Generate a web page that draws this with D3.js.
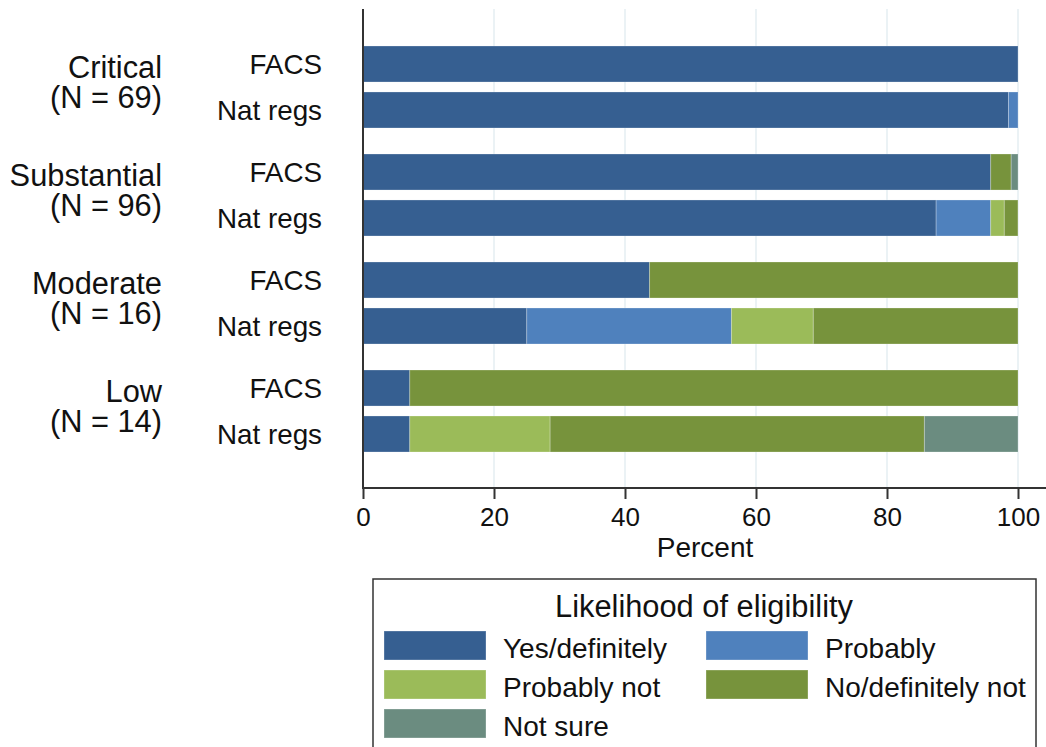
<!DOCTYPE html>
<html>
<head>
<meta charset="utf-8">
<script src="https://cdn.jsdelivr.net/npm/d3@7"></script>
<style>
  html, body { margin: 0; padding: 0; background: #fff; }
  svg { display: block; font-family: "Liberation Sans", Arial, Helvetica, sans-serif; }
</style>
</head>
<body>
<svg id="chart" width="1046" height="747"></svg>
<script>
// ---- data ----
const groups = ["Critical", "Substantial", "Moderate", "Low"];
const groupN = ["(N = 69)", "(N = 96)", "(N = 16)", "(N = 14)"];
const sources = ["FACS", "Nat regs"];
const categories = ["Yes/definitely", "Probably", "Probably not", "No/definitely not", "Not sure"];
const colors = ["#365f91", "#4f81bd", "#9bbb59", "#77933c", "#6b8c80"];
// percentages per category, rows: Critical FACS, Critical Nat regs, Substantial FACS, ...
const yesDefinitely  = [100,   98.55, 95.83, 87.5,  43.75, 25,    7.14, 7.14];
const probably       = [0,     1.45,  0,     8.33,  0,     31.25, 0,    0];
const probablyNot    = [0,     0,     0,     2.08,  0,     12.5,  0,    21.43];
const noDefinitelyNot= [0,     0,     3.13,  2.08,  56.25, 31.25, 92.86,57.14];
const notSure        = [0,     0,     1.04,  0,     0,     0,     0,    14.29];
const xTicks = [0, 20, 40, 60, 80, 100];
const xTitle = "Percent";
const legendTitle = "Likelihood of eligibility";

// ---- build rows ----
const series = [yesDefinitely, probably, probablyNot, noDefinitelyNot, notSure];
const rows = [];
groups.forEach((g, gi) => sources.forEach((s, si) => {
  const idx = gi * 2 + si;
  const r = { group: g, source: s };
  categories.forEach((c, ci) => r[c] = series[ci][idx]);
  rows.push(r);
}));
const stacked = d3.stack().keys(categories)(rows);

const svg = d3.select("#chart");
const x = d3.scaleLinear().domain([0, 100]).range([363, 1018]);
const yOuter = d3.scaleBand().domain(groups).range([20, 478]).paddingInner(0.2407).paddingOuter(0.2407);
const yInner = d3.scaleBand().domain(sources).range([0, yOuter.bandwidth()]).paddingInner(0.217).paddingOuter(0);
const color = d3.scaleOrdinal().domain(categories).range(colors);

const plotTop = 9, plotBottom = 488;

// gridlines
svg.append("g").selectAll("line").data(xTicks.filter(d => d > 0)).join("line")
  .attr("x1", d => x(d)).attr("x2", d => x(d))
  .attr("y1", plotTop).attr("y2", plotBottom)
  .attr("stroke", "#e4eef2").attr("stroke-width", 1.5);

// bars
svg.append("g").selectAll("g").data(stacked).join("g")
  .attr("fill", d => color(d.key))
  .selectAll("rect").data(d => d).join("rect")
  .attr("x", d => x(d[0]))
  .attr("width", d => Math.max(0, x(d[1]) - x(d[0])))
  .attr("y", d => yOuter(d.data.group) + yInner(d.data.source))
  .attr("height", yInner.bandwidth())
  .attr("stroke", d => (d[1] - d[0]) > 0 ? "rgba(255,255,255,0.25)" : "none")
  .attr("stroke-width", 1);

// left axis line
svg.append("line").attr("x1", 363).attr("x2", 363).attr("y1", plotTop).attr("y2", plotBottom)
  .attr("stroke", "#333").attr("stroke-width", 2);

// x axis
const xAxis = svg.append("g").attr("transform", `translate(0,${plotBottom})`)
  .call(d3.axisBottom(x).tickValues(xTicks).tickSize(11).tickPadding(9).tickFormat(d3.format("d")));
xAxis.select(".domain").remove();
svg.append("line").attr("x1", 362).attr("x2", 1046).attr("y1", plotBottom).attr("y2", plotBottom)
  .attr("stroke", "#333").attr("stroke-width", 2);
xAxis.selectAll(".tick line").attr("stroke", "#333").attr("stroke-width", 2);
xAxis.selectAll(".tick text").attr("fill", "#111").style("font-size", "26px").style("font-family", "Liberation Sans, Arial, sans-serif");

svg.append("text").attr("x", 705).attr("y", 557).attr("text-anchor", "middle")
  .style("font-size", "28px").attr("fill", "#111").text(xTitle);

// sub labels
rows.forEach(r => {
  svg.append("text")
    .attr("x", 322).attr("y", yOuter(r.group) + yInner(r.source) + yInner.bandwidth() / 2 + 10)
    .attr("text-anchor", "end").style("font-size", "27.8px").attr("fill", "#111").text(r.source);
});
// group labels
groups.forEach((g, gi) => {
  const yb = yOuter(g) + yInner.bandwidth() / 2 + 14;
  svg.append("text").attr("x", 162).attr("y", yb).attr("text-anchor", "end")
    .style("font-size", "30.8px").attr("fill", "#111").text(g);
  svg.append("text").attr("x", 162).attr("y", yb + 30).attr("text-anchor", "end")
    .style("font-size", "30.8px").attr("fill", "#111").text(groupN[gi]);
});

// legend
const lg = svg.append("g");
lg.append("rect").attr("x", 373).attr("y", 579).attr("width", 663).attr("height", 200)
  .attr("fill", "#fff").attr("stroke", "#333").attr("stroke-width", 1.5);
lg.append("text").attr("x", 704).attr("y", 617).attr("text-anchor", "middle")
  .style("font-size", "30.8px").attr("fill", "#111").text(legendTitle);
const colX = [384, 706];
const rowY = [631, 670, 709];
categories.forEach((c, i) => {
  const cx = colX[i % 2], ry = rowY[Math.floor(i / 2)];
  lg.append("rect").attr("x", cx).attr("y", ry).attr("width", 102).attr("height", 29)
    .attr("fill", color(c)).attr("stroke", "rgba(255,255,255,0.3)").attr("stroke-width", 1);
  lg.append("text").attr("x", cx + 119).attr("y", ry + 26.5)
    .style("font-size", "28px").attr("fill", "#111").text(c);
});
</script>
</body>
</html>
